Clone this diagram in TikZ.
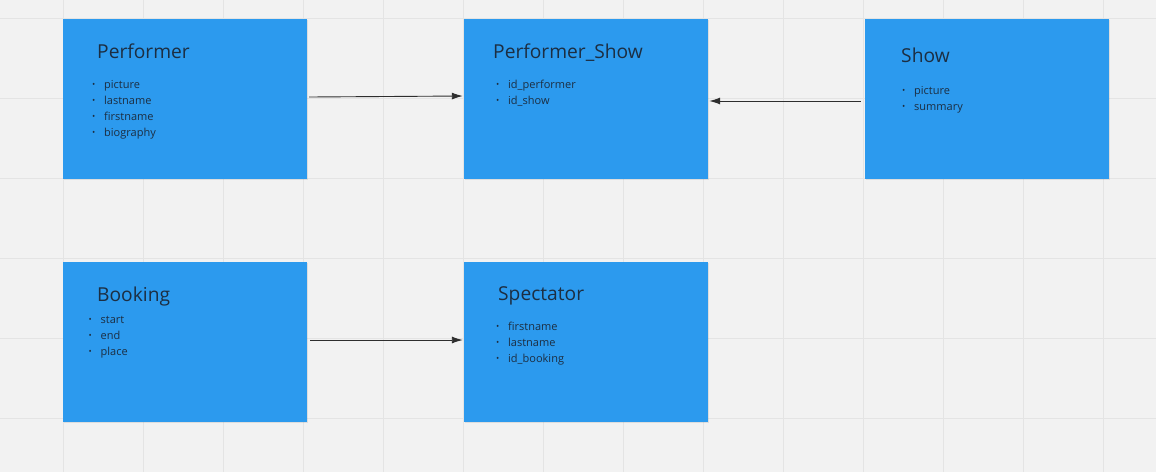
\documentclass[tikz,border=0pt]{standalone}
\usepackage{fontspec}
\setmainfont{Open Sans}
\usetikzlibrary{arrows.meta,shadows}
\definecolor{bg}{HTML}{F2F2F2}
\definecolor{gridc}{HTML}{E4E4E4}
\definecolor{boxc}{HTML}{2C9AEE}
\definecolor{txt}{HTML}{1C2E42}
\definecolor{linec}{HTML}{2E2E2E}
\tikzset{
  entity/.style={fill=boxc, draw=none, minimum width=244pt, minimum height=160pt, inner sep=0pt,
    drop shadow={opacity=0.18, shadow xshift=0.6pt, shadow yshift=-1pt}},
  title/.style={anchor=base west, inner sep=0pt, text=txt, font=\fontsize{19.2}{23}\selectfont},
  item/.style={anchor=base west, inner sep=0pt, text=txt, font=\fontsize{11}{13}\selectfont},
  conn/.style={draw=linec, line width=0.9pt, -{Latex[length=11pt,width=7pt]}}
}
\newcommand{\bul}[1]{\makebox[12pt][l]{\raisebox{0.3pt}{\fontsize{8.5}{9}\selectfont\textbullet}}#1}
\begin{document}
\begin{tikzpicture}[x=1pt,y=-1pt]
\useasboundingbox (0,0) rectangle (1156,472);
\fill[bg] (0,0) rectangle (1156,472);
\foreach \gx in {63,143,...,1143} \draw[gridc, line width=1pt] (\gx,0) -- (\gx,472);
\foreach \gy in {18,98,...,418} \draw[gridc, line width=1pt] (0,\gy) -- (1156,\gy);

% boxes
\node[entity] (perf) at (185,99) {};
\node[entity] (ps) at (586,99) {};
\node[entity] (show) at (987,99) {};
\node[entity] (book) at (185,342) {};
\node[entity] (spec) at (586,342) {};

% Performer
\node[title] (perfT) at (97,58) {Performer};
\node[item] (perf1) at (92,88) {\bul{picture}};
\node[item] (perf2) at (92,104) {\bul{lastname}};
\node[item] (perf3) at (92,120) {\bul{firstname}};
\node[item] (perf4) at (92,136) {\bul{biography}};

% Performer_Show
\node[title] (psT) at (493,58) {Performer\_Show};
\node[item] (ps1) at (496,88) {\bul{id\_performer}};
\node[item] (ps2) at (496,104) {\bul{id\_show}};

% Show
\node[title] (showT) at (901,62) {Show};
\node[item] (show1) at (902,94) {\bul{picture}};
\node[item] (show2) at (902,110) {\bul{summary}};

% Booking
\node[title] (bookT) at (97,301) {Booking};
\node[item] (book1) at (88.5,323) {\bul{start}};
\node[item] (book2) at (88.5,339) {\bul{end}};
\node[item] (book3) at (88.5,355) {\bul{place}};

% Spectator
\node[title] (specT) at (498,300) {Spectator};
\node[item] (spec1) at (496,330) {\bul{firstname}};
\node[item] (spec2) at (496,346) {\bul{lastname}};
\node[item] (spec3) at (496,362) {\bul{id\_booking}};

% connectors
\draw[conn] ([xshift=2pt,yshift=2pt]perf.east) -- ([xshift=-1pt,yshift=3pt]ps.west);
\draw[conn] ([xshift=-4pt,yshift=-2pt]show.west) -- ([xshift=1pt,yshift=-2pt]ps.east);
\draw[conn] ([xshift=3pt,yshift=2pt]book.east) -- ([xshift=-1pt,yshift=2pt]spec.west);
\end{tikzpicture}
\end{document}
